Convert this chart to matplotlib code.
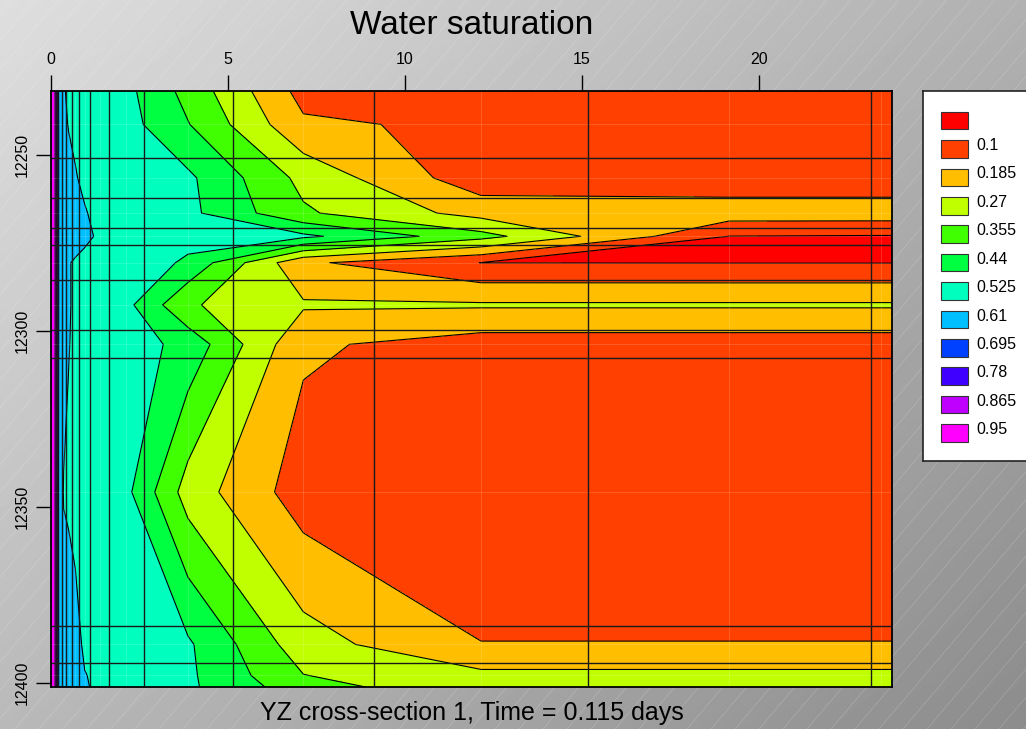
import numpy as np
import matplotlib
matplotlib.use("Agg")
import matplotlib.pyplot as plt
from matplotlib.colors import ListedColormap, BoundaryNorm
from matplotlib.patches import Rectangle

plt.rcParams['font.family'] = ['Liberation Sans', 'DejaVu Sans']

W, H = 1026, 729

# ------------------------------------------------------------
# Data: cell-centre nodes (x = distance, z = depth) and Sw values
# ------------------------------------------------------------
x_nodes = [0.0, 0.085, 0.24, 0.367, 0.508, 0.695, 0.96, 1.378, 2.129,
           3.876, 7.134, 12.15, 19.15, 23.44, 23.76]
z_nodes = [12231.8, 12241.3, 12256.5, 12266.5, 12273.1, 12280.6,
           12292.6, 12303.8, 12345.8, 12389.1, 12397.9, 12401.2]

sw = [
    [1.03, 1.03, 0.66, 0.615, 0.600, 0.590, 0.580, 0.570, 0.548, 0.411, 0.155, 0.155, 0.155, 0.155, 0.155],
    [1.03, 1.03, 0.67, 0.630, 0.605, 0.595, 0.585, 0.575, 0.556, 0.444, 0.199, 0.167, 0.165, 0.165, 0.165],
    [1.03, 1.03, 0.67, 0.650, 0.640, 0.615, 0.595, 0.585, 0.575, 0.541, 0.330, 0.132, 0.130, 0.130, 0.130],
    [1.03, 1.03, 0.67, 0.655, 0.645, 0.635, 0.615, 0.590, 0.575, 0.546, 0.367, 0.238, 0.230, 0.230, 0.230],
    [1.03, 1.03, 0.67, 0.665, 0.660, 0.650, 0.625, 0.600, 0.585, 0.565, 0.543, 0.385, 0.099, 0.095, 0.095],
    [1.03, 1.03, 0.67, 0.640, 0.615, 0.600, 0.590, 0.590, 0.600, 0.506, 0.200, 0.099, 0.098, 0.098, 0.098],
    [1.03, 1.03, 0.67, 0.640, 0.615, 0.600, 0.590, 0.575, 0.548, 0.365, 0.280, 0.280, 0.280, 0.280, 0.280],
    [1.03, 1.03, 0.67, 0.640, 0.612, 0.600, 0.590, 0.580, 0.567, 0.497, 0.199, 0.145, 0.145, 0.145, 0.145],
    [1.03, 1.03, 0.66, 0.605, 0.600, 0.590, 0.580, 0.570, 0.546, 0.317, 0.141, 0.140, 0.140, 0.140, 0.140],
    [1.03, 1.03, 0.67, 0.650, 0.640, 0.630, 0.600, 0.590, 0.570, 0.537, 0.305, 0.186, 0.186, 0.186, 0.186],
    [1.03, 1.03, 0.67, 0.650, 0.645, 0.635, 0.612, 0.600, 0.570, 0.540, 0.357, 0.290, 0.290, 0.290, 0.290],
    [1.03, 1.03, 0.67, 0.650, 0.645, 0.635, 0.615, 0.600, 0.570, 0.540, 0.390, 0.290, 0.290, 0.290, 0.290],
]

# simulation grid lines
x_grid = [0.169, 0.311, 0.423, 0.593, 0.799, 1.118, 1.637, 2.62, 5.133, 9.136, 15.17, 23.15]
z_grid = [12250.8, 12262.3, 12270.7, 12275.6, 12285.5, 12299.7, 12307.8, 12383.8, 12394.5]

levels = [0.015, 0.1, 0.185, 0.27, 0.355, 0.44, 0.525, 0.61, 0.695, 0.78, 0.865, 0.95, 1.035]
colors = ['#ff0000', '#ff4000', '#ffbf00', '#bfff00', '#40ff00', '#00ff40',
          '#00ffbf', '#00bfff', '#0040ff', '#4000ff', '#bf00ff', '#ff00ff']
legend_labels = ['0.1', '0.185', '0.27', '0.355', '0.44', '0.525',
                 '0.61', '0.695', '0.78', '0.865', '0.95']

xticks = [0, 5, 10, 15, 20]
yticks = [12250, 12300, 12350, 12400]

# ------------------------------------------------------------
fig = plt.figure(figsize=(W / 100, H / 100), dpi=100)

# background gradient with faint diagonal streaks
bg = fig.add_axes([0, 0, 1, 1], zorder=-5)
gx, gy = np.meshgrid(np.linspace(0, 1, 300), np.linspace(0, 1, 220))
grad = (222 - 82 * (0.55 * gx + 0.45 * gy)) / 255.0
bg.imshow(grad, cmap='gray', vmin=0, vmax=1, extent=(0, W, H, 0), aspect='auto')
for off in range(-H, W + 40, 24):
    bg.plot([off, off + H * 0.85], [H, 0], color='white', lw=0.5, alpha=0.2)
bg.set_xlim(0, W)
bg.set_ylim(H, 0)
bg.axis('off')

left, right, top, bottom = 50.7, 892.3, 91.0, 687.0
ax = fig.add_axes([left / W, 1 - bottom / H, (right - left) / W, (bottom - top) / H])

X, Z = np.meshgrid(x_nodes, z_nodes)
S = np.array(sw)
cmap = ListedColormap(colors)
norm = BoundaryNorm(levels, cmap.N)
ax.contourf(X, Z, S, levels=levels, cmap=cmap, norm=norm)
ax.contour(X, Z, S, levels=levels[1:-1], colors='k', linewidths=0.8)

# faint lines at node rows / columns
for xv in x_nodes[1:-1]:
    ax.axvline(xv, color='white', lw=0.7, alpha=0.15)
for zv in z_nodes[1:-1]:
    ax.axhline(zv, color='white', lw=0.7, alpha=0.15)

# simulation grid
for xv in x_grid:
    ax.axvline(xv, color='#1a1a1a', lw=1.0)
for zv in z_grid:
    ax.axhline(zv, color='#1a1a1a', lw=1.0)

ax.set_xlim(x_nodes[0], x_nodes[-1])
ax.set_ylim(z_nodes[-1], z_nodes[0])
ax.xaxis.tick_top()
ax.set_xticks(xticks)
ax.set_yticks(yticks)
ax.tick_params(axis='x', length=11.5, width=1, pad=6, labelsize=11.5, direction='out')
ax.tick_params(axis='y', length=11, width=1, pad=4, labelsize=11.5, direction='out',
               labelrotation=90)
for lab in ax.get_yticklabels():
    lab.set_va('center')
for sp in ax.spines.values():
    sp.set_linewidth(1.3)
    sp.set_color('black')

fig.text((left + right) / 2 / W, 1 - 25 / H, 'Water saturation',
         ha='center', va='center', fontsize=24)
fig.text((left + right) / 2 / W, 1 - 713 / H, 'YZ cross-section 1, Time = 0.115 days',
         ha='center', va='center', fontsize=18)

# legend panel (pixel coordinates)
lx0, ly0, ly1 = 922.7, 91.0, 461.0
leg = fig.add_axes([lx0 / W, 1 - ly1 / H, (1045 - lx0) / W, (ly1 - ly0) / H])
leg.set_xlim(lx0, 1045)
leg.set_ylim(ly1, ly0)
leg.set_facecolor('white')
leg.set_xticks([])
leg.set_yticks([])
for sp in leg.spines.values():
    sp.set_linewidth(1.2)
    sp.set_color('#222222')
step = 28.4
for i, c in enumerate(colors):
    y0 = 111.7 + i * step
    leg.add_patch(Rectangle((940.7, y0), 27.6, 17.7, facecolor=c,
                            edgecolor='#333333', lw=0.8))
for i, t in enumerate(legend_labels):
    leg.text(976.5, 111.7 + (i + 1) * step + 5.5, t, ha='left', va='center', fontsize=11.5)

fig.savefig('out.png', dpi=100)
